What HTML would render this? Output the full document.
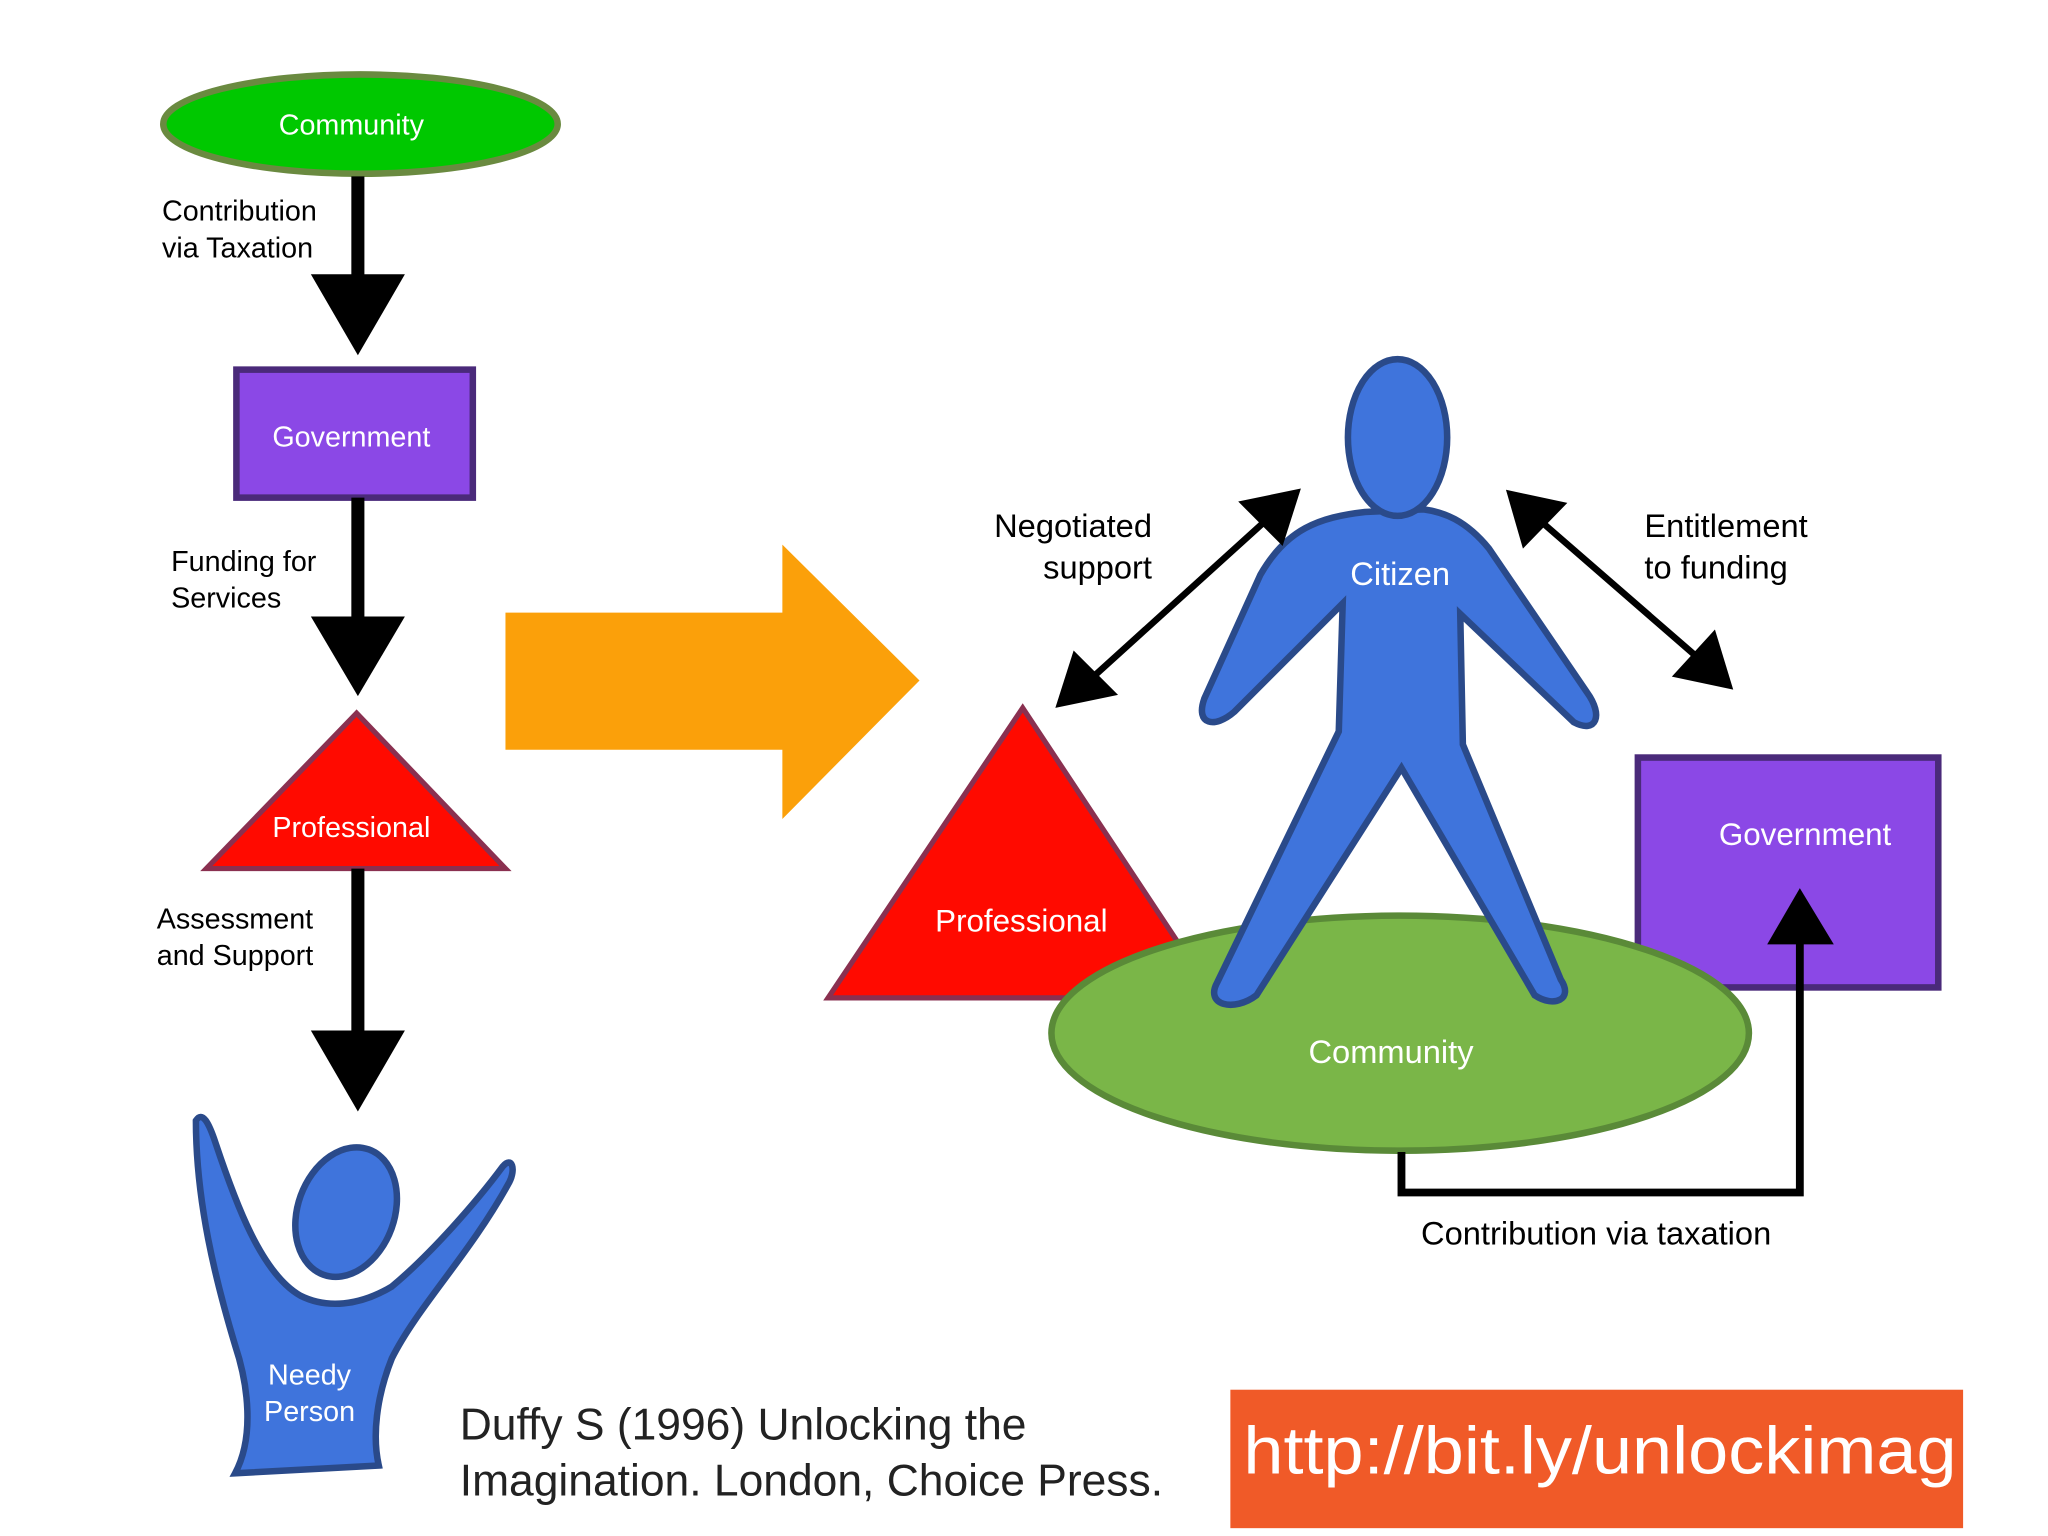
<!DOCTYPE html>
<html><head><meta charset="utf-8"><style>
html,body{margin:0;padding:0;background:#fff;width:2048px;height:1536px;overflow:hidden}
svg{display:block}
text{font-family:"Liberation Sans",sans-serif}
</style></head><body>
<svg width="2048" height="1536" viewBox="0 0 1568 1176" xmlns="http://www.w3.org/2000/svg">
<rect width="1568" height="1176" fill="#fff"/>
<ellipse cx="276" cy="95" rx="151" ry="38" fill="#00c800" stroke="#6a8a40" stroke-width="5"/>
<text x="269" y="103" font-size="22" fill="#fff" text-anchor="middle">Community</text>
<line x1="274" y1="135" x2="274" y2="215" stroke="#000" stroke-width="10"/>
<polygon points="238,210 310,210 274,272" fill="#000"/>
<text x="124" y="169" font-size="22">Contribution</text>
<text x="124" y="197" font-size="22">via Taxation</text>
<rect x="181" y="283" width="181" height="98" fill="#8b48e6" stroke="#4a2a7a" stroke-width="5"/>
<text x="269" y="342" font-size="22" fill="#fff" text-anchor="middle">Government</text>
<line x1="274" y1="381" x2="274" y2="476" stroke="#000" stroke-width="10"/>
<polygon points="238,472 310,472 274,533" fill="#000"/>
<text x="131" y="437" font-size="22">Funding for</text>
<text x="131" y="465" font-size="22">Services</text>
<polygon points="273,546 158,665 387,665" fill="#ff0a00" stroke="#8a3050" stroke-width="4"/>
<text x="269" y="641" font-size="22" fill="#fff" text-anchor="middle">Professional</text>
<line x1="274" y1="665" x2="274" y2="792" stroke="#000" stroke-width="10"/>
<polygon points="238,789 310,789 274,851" fill="#000"/>
<text x="120" y="711" font-size="22">Assessment</text>
<text x="120" y="739" font-size="22">and Support</text>
<path d="M150,858 C155,850 160,860 165,875 C180,920 200,975 230,992 C250,1002 275,1000 300,985 C330,960 365,920 385,893 C392,885 395,895 390,905 C360,960 320,1000 300,1040 C288,1070 285,1100 290,1122 L180,1128 C195,1100 190,1060 180,1030 C165,980 150,920 150,858 Z" fill="#3f74dc" stroke="#2a4a8a" stroke-width="5"/>
<ellipse cx="265" cy="928" rx="37" ry="51" transform="rotate(20 265 928)" fill="#3f74dc" stroke="#2a4a8a" stroke-width="5"/>
<text x="237" y="1060" font-size="22" fill="#fff" text-anchor="middle">Needy</text>
<text x="237" y="1088" font-size="22" fill="#fff" text-anchor="middle">Person</text>
<polygon points="387,469 599,469 599,417 704,521 599,627 599,574 387,574" fill="#fba00a"/>
<text x="352" y="1102" font-size="34" fill="#222">Duffy S (1996) Unlocking the</text>
<text x="352" y="1145" font-size="34" fill="#222">Imagination. London, Choice Press.</text>
<rect x="942" y="1064" width="561" height="106" fill="#f05a28"/>
<text x="952" y="1128" font-size="51" fill="#fff" textLength="546" lengthAdjust="spacingAndGlyphs">http://bit.ly/unlockimag</text>
<polygon points="783,542 634,764 930,764" fill="#ff0a00" stroke="#8a3050" stroke-width="4"/>
<text x="782" y="713" font-size="24" fill="#fff" text-anchor="middle">Professional</text>
<rect x="1254" y="580" width="230" height="176" fill="#8b48e6" stroke="#4a2a7a" stroke-width="5"/>
<text x="1382" y="647" font-size="24" fill="#fff" text-anchor="middle">Government</text>
<ellipse cx="1072" cy="791" rx="267" ry="90" fill="#7ab648" stroke="#5a8a38" stroke-width="5"/>
<text x="1065" y="814" font-size="25" fill="#fff" text-anchor="middle">Community</text>
<path d="M1045,392 C1010,396 985,405 965,440 L922,535 C915,555 930,558 945,545 L1028,462 L1025,560 L932,752 C922,770 945,775 962,762 L1073,588 L1175,762 C1190,772 1205,765 1195,750 L1120,570 L1118,470 L1205,553 C1222,562 1228,548 1215,530 L1140,420 C1122,398 1105,392 1090,390 Z" fill="#3f74dc" stroke="#2a4a8a" stroke-width="5"/>
<ellipse cx="1070" cy="335" rx="38" ry="60" fill="#3f74dc" stroke="#2a4a8a" stroke-width="5"/>
<text x="1072" y="448" font-size="25" fill="#fff" text-anchor="middle">Citizen</text>
<line x1="835" y1="520" x2="973" y2="395" stroke="#000" stroke-width="5"/>
<polygon points="808,542 822,498 856,532" fill="#000"/>
<polygon points="996,374 948,384 982,418" fill="#000"/>
<line x1="1175" y1="395" x2="1305" y2="508" stroke="#000" stroke-width="5"/>
<polygon points="1153,375 1166,420 1200,385" fill="#000"/>
<polygon points="1327,528 1280,518 1313,482" fill="#000"/>
<text x="882" y="411" font-size="25" text-anchor="end">Negotiated</text>
<text x="882" y="443" font-size="25" text-anchor="end">support</text>
<text x="1259" y="411" font-size="25">Entitlement</text>
<text x="1259" y="443" font-size="25">to funding</text>
<polyline points="1073,882 1073,913 1378,913 1378,718" fill="none" stroke="#000" stroke-width="6"/>
<polygon points="1353,723 1404,723 1378,680" fill="#000"/>
<text x="1088" y="953" font-size="25">Contribution via taxation</text>
</svg>
</body></html>
